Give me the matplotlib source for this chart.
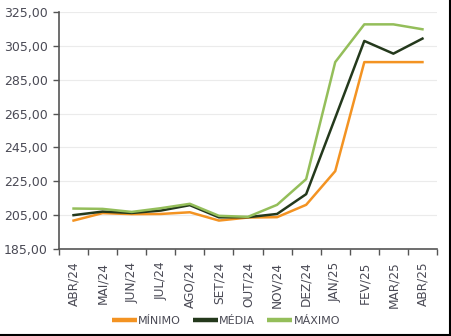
import matplotlib
matplotlib.use("Agg")
import matplotlib.pyplot as plt
from matplotlib.lines import Line2D
import numpy as np

meses = ['ABR/24', 'MAI/24', 'JUN/24', 'JUL/24', 'AGO/24', 'SET/24', 'OUT/24',
         'NOV/24', 'DEZ/24', 'JAN/25', 'FEV/25', 'MAR/25', 'ABR/25']
minimo = [201.8, 206.2, 205.6, 205.7, 206.7, 201.8, 203.6, 203.8, 211.1, 231.0, 295.4, 295.4, 295.4]
media = [205.0, 207.1, 206.3, 207.7, 210.9, 203.7, 203.8, 205.7, 217.4, 262.5, 307.9, 300.4, 309.3]
maximo = [208.9, 208.7, 206.9, 209.1, 211.7, 204.6, 204.0, 211.1, 226.3, 295.4, 317.7, 317.7, 314.8]
yticks = [185, 205, 225, 245, 265, 285, 305, 325]

c_min = '#F39322'
c_med = '#24391C'
c_max = '#94BE5A'
txt = '#4A4A55'

plt.rcParams['font.family'] = ['Liberation Sans Narrow', 'DejaVu Sans']

fig = plt.figure(figsize=(4.51, 3.36), dpi=100)
ax = fig.add_axes([59 / 451, 1 - 249 / 336, (437 - 59) / 451, (249 - 12) / 336])

x = np.arange(len(meses))
ax.plot(x, minimo, color=c_min, lw=1.8, label='MÍNIMO', zorder=3)
ax.plot(x, media, color=c_med, lw=1.8, label='MÉDIA', zorder=4)
ax.plot(x, maximo, color=c_max, lw=1.8, label='MÁXIMO', zorder=5)

ax.set_xlim(-0.5, len(meses) - 0.5)
ax.set_ylim(185, 325)
ax.set_yticks(yticks)
ax.set_yticklabels([f'{v:.2f}'.replace('.', ',') for v in yticks], fontsize=9, color=txt)
ax.set_xticks(x)
ax.set_xticklabels(meses, rotation=90, fontsize=8.7, color=txt)
ax.set_xticks(np.arange(len(meses) + 1) - 0.5, minor=True)
ax.tick_params(axis='x', which='major', length=0, pad=9)
ax.tick_params(axis='x', which='minor', length=4, width=1, color='#555555', direction='out')
ax.tick_params(axis='y', length=4, width=1, color='#555555', pad=4)

ax.grid(axis='y', color='#EBEBEB', lw=0.8, zorder=0)
for s in ['top', 'right']:
    ax.spines[s].set_visible(False)
for s in ['left', 'bottom']:
    ax.spines[s].set_color('#555555')
    ax.spines[s].set_linewidth(1.2)

leg = fig.legend(loc='center', bbox_to_anchor=(0.501, 1 - 321 / 336), ncol=3,
                 frameon=False, fontsize=8, handlelength=2.25, handletextpad=0.1,
                 columnspacing=1.1, labelcolor=txt)
for h in leg.legend_handles:
    h.set_linewidth(3.2)
    h.set_solid_capstyle('butt')

# moldura preta direita/inferior
fig.add_artist(Line2D([449.5 / 451, 449.5 / 451], [0, 1], color='black', lw=1.5))
fig.add_artist(Line2D([0, 1], [1.5 / 336, 1.5 / 336], color='black', lw=1.5))

fig.savefig('out.png', dpi=100)
